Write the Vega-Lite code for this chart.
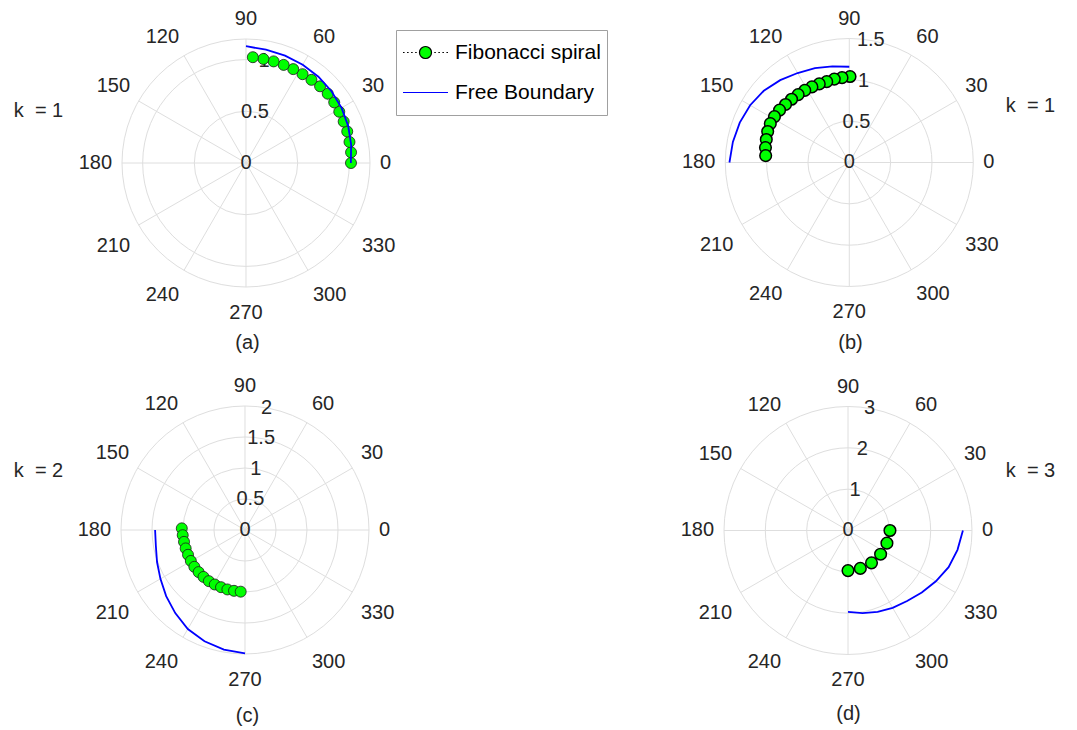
{
  "$schema": "https://vega.github.io/schema/vega-lite/v6.json",
  "padding": 0,
  "bounds": "flush",
  "spacing": 0,
  "columns": 2,
  "background": "white",
  "config": {
    "view": {"stroke": null},
    "axis": {"domain": false, "ticks": false, "labels": false, "grid": false, "titleFont": "Liberation Sans", "titleFontSize": 20, "titleFontWeight": "normal", "titleColor": "#262626", "titlePadding": 0}
  },
  "resolve": {
    "scale": {"x": "independent", "y": "independent", "size": "independent", "shape": "independent", "fill": "independent", "stroke": "independent"},
    "axis": {"x": "independent", "y": "independent"}
  },
  "datasets": {
    "angles": [{"angle": 0}, {"angle": 30}, {"angle": 60}, {"angle": 90}, {"angle": 120}, {"angle": 150}, {"angle": 180}, {"angle": 210}, {"angle": 240}, {"angle": 270}, {"angle": 300}, {"angle": 330}],
    "pa": [
      {"series": "Fibonacci spiral", "theta": 0, "r": 1.016},
      {"series": "Fibonacci spiral", "theta": 5.8, "r": 1.022},
      {"series": "Fibonacci spiral", "theta": 11.5, "r": 1.022},
      {"series": "Fibonacci spiral", "theta": 17.3, "r": 1.026},
      {"series": "Fibonacci spiral", "theta": 23, "r": 1.027},
      {"series": "Fibonacci spiral", "theta": 28.8, "r": 1.03},
      {"series": "Fibonacci spiral", "theta": 34.5, "r": 1.036},
      {"series": "Fibonacci spiral", "theta": 40.3, "r": 1.037},
      {"series": "Fibonacci spiral", "theta": 46, "r": 1.032},
      {"series": "Fibonacci spiral", "theta": 51.8, "r": 1.024},
      {"series": "Fibonacci spiral", "theta": 57.5, "r": 1.019},
      {"series": "Fibonacci spiral", "theta": 63.3, "r": 1.017},
      {"series": "Fibonacci spiral", "theta": 69, "r": 1.017},
      {"series": "Fibonacci spiral", "theta": 74.8, "r": 1.019},
      {"series": "Fibonacci spiral", "theta": 80.5, "r": 1.021},
      {"series": "Fibonacci spiral", "theta": 86.3, "r": 1.026},
      {"series": "Free Boundary", "theta": 0, "r": 1.015},
      {"series": "Free Boundary", "theta": 10, "r": 1.033},
      {"series": "Free Boundary", "theta": 20, "r": 1.052},
      {"series": "Free Boundary", "theta": 30, "r": 1.068},
      {"series": "Free Boundary", "theta": 40, "r": 1.08},
      {"series": "Free Boundary", "theta": 50, "r": 1.09},
      {"series": "Free Boundary", "theta": 60, "r": 1.098},
      {"series": "Free Boundary", "theta": 70, "r": 1.105},
      {"series": "Free Boundary", "theta": 80, "r": 1.113},
      {"series": "Free Boundary", "theta": 90, "r": 1.13}
    ],
    "pb": [
      {"series": "Fibonacci spiral", "theta": 89.5, "r": 1.04},
      {"series": "Fibonacci spiral", "theta": 94.9, "r": 1.03},
      {"series": "Fibonacci spiral", "theta": 100.2, "r": 1.025},
      {"series": "Fibonacci spiral", "theta": 105.6, "r": 1.015},
      {"series": "Fibonacci spiral", "theta": 110.9, "r": 1.018},
      {"series": "Fibonacci spiral", "theta": 116.3, "r": 1.02},
      {"series": "Fibonacci spiral", "theta": 121.7, "r": 1.025},
      {"series": "Fibonacci spiral", "theta": 127, "r": 1.028},
      {"series": "Fibonacci spiral", "theta": 132.4, "r": 1.036},
      {"series": "Fibonacci spiral", "theta": 137.7, "r": 1.043},
      {"series": "Fibonacci spiral", "theta": 143.1, "r": 1.055},
      {"series": "Fibonacci spiral", "theta": 148.5, "r": 1.062},
      {"series": "Fibonacci spiral", "theta": 153.8, "r": 1.065},
      {"series": "Fibonacci spiral", "theta": 159.2, "r": 1.056},
      {"series": "Fibonacci spiral", "theta": 164.5, "r": 1.042},
      {"series": "Fibonacci spiral", "theta": 169.9, "r": 1.03},
      {"series": "Fibonacci spiral", "theta": 175.3, "r": 1.015},
      {"series": "Free Boundary", "theta": 90, "r": 1.158},
      {"series": "Free Boundary", "theta": 100, "r": 1.18},
      {"series": "Free Boundary", "theta": 110, "r": 1.215},
      {"series": "Free Boundary", "theta": 120, "r": 1.25},
      {"series": "Free Boundary", "theta": 130, "r": 1.3},
      {"series": "Free Boundary", "theta": 140, "r": 1.35},
      {"series": "Free Boundary", "theta": 150, "r": 1.385},
      {"series": "Free Boundary", "theta": 160, "r": 1.41},
      {"series": "Free Boundary", "theta": 170, "r": 1.43},
      {"series": "Free Boundary", "theta": 180, "r": 1.45}
    ],
    "pc": [
      {"series": "Fibonacci spiral", "theta": 178.5, "r": 1.02},
      {"series": "Fibonacci spiral", "theta": 184.75, "r": 1.008},
      {"series": "Fibonacci spiral", "theta": 191, "r": 1.002},
      {"series": "Fibonacci spiral", "theta": 197.25, "r": 1.002},
      {"series": "Fibonacci spiral", "theta": 203.5, "r": 1.002},
      {"series": "Fibonacci spiral", "theta": 209.75, "r": 1.006},
      {"series": "Fibonacci spiral", "theta": 216, "r": 1.01},
      {"series": "Fibonacci spiral", "theta": 222.25, "r": 1.01},
      {"series": "Fibonacci spiral", "theta": 228.5, "r": 1.01},
      {"series": "Fibonacci spiral", "theta": 234.75, "r": 1.01},
      {"series": "Fibonacci spiral", "theta": 241, "r": 1.005},
      {"series": "Fibonacci spiral", "theta": 247.25, "r": 1.0},
      {"series": "Fibonacci spiral", "theta": 253.5, "r": 1.0},
      {"series": "Fibonacci spiral", "theta": 259.75, "r": 0.997},
      {"series": "Fibonacci spiral", "theta": 266, "r": 0.997},
      {"series": "Free Boundary", "theta": 180, "r": 1.45},
      {"series": "Free Boundary", "theta": 190, "r": 1.46},
      {"series": "Free Boundary", "theta": 200, "r": 1.51},
      {"series": "Free Boundary", "theta": 210, "r": 1.575},
      {"series": "Free Boundary", "theta": 220, "r": 1.66},
      {"series": "Free Boundary", "theta": 230, "r": 1.75},
      {"series": "Free Boundary", "theta": 240, "r": 1.845},
      {"series": "Free Boundary", "theta": 250, "r": 1.91},
      {"series": "Free Boundary", "theta": 260, "r": 1.96},
      {"series": "Free Boundary", "theta": 270, "r": 1.99}
    ],
    "pd": [
      {"series": "Fibonacci spiral", "theta": 0, "r": 1.015},
      {"series": "Fibonacci spiral", "theta": -18, "r": 0.99},
      {"series": "Fibonacci spiral", "theta": -36, "r": 0.975},
      {"series": "Fibonacci spiral", "theta": -54, "r": 0.968},
      {"series": "Fibonacci spiral", "theta": -72, "r": 0.965},
      {"series": "Fibonacci spiral", "theta": -90, "r": 0.97},
      {"series": "Free Boundary", "theta": 0, "r": 2.78},
      {"series": "Free Boundary", "theta": -10, "r": 2.69},
      {"series": "Free Boundary", "theta": -20, "r": 2.59},
      {"series": "Free Boundary", "theta": -30, "r": 2.455},
      {"series": "Free Boundary", "theta": -40, "r": 2.33},
      {"series": "Free Boundary", "theta": -50, "r": 2.225},
      {"series": "Free Boundary", "theta": -60, "r": 2.16},
      {"series": "Free Boundary", "theta": -70, "r": 2.095},
      {"series": "Free Boundary", "theta": -80, "r": 2.03},
      {"series": "Free Boundary", "theta": -90, "r": 1.97}
    ]
  },
  "concat": [
    {
      "width": 538, "height": 365,
      "encoding": {
        "x": {"field": "x", "type": "quantitative", "scale": {"domain": [-2.3806, 2.8258], "nice": false, "zero": false}, "axis": {"title": "(a)", "orient": "bottom", "titleX": 247, "titleY": -23, "titleAlign": "center", "titleBaseline": "middle"}},
        "y": {"field": "y", "type": "quantitative", "scale": {"domain": [-1.9548, 1.5774], "nice": false, "zero": false}, "axis": {"title": "k\u00a0 = 1", "orient": "left", "titleAngle": 0, "titleX": 38, "titleY": 110, "titleAlign": "center", "titleBaseline": "middle"}}
      },
      "layer": [
        {
          "data": {"name": "angles"},
          "transform": [{"calculate": "0", "as": "x"}, {"calculate": "0", "as": "y"}, {"calculate": "1.2*cos(datum.angle*PI/180)", "as": "x2"}, {"calculate": "1.2*sin(datum.angle*PI/180)", "as": "y2"}],
          "mark": {"type": "rule", "color": "#dedede", "strokeWidth": 1},
          "encoding": {"x2": {"field": "x2"}, "y2": {"field": "y2"}}
        },
        {
          "data": {"values": [{"r": 0.5}, {"r": 1}, {"r": 1.2}]},
          "transform": [{"calculate": "0", "as": "x"}, {"calculate": "0", "as": "y"}],
          "mark": {"type": "point", "shape": "circle", "filled": false, "color": "#dedede", "strokeWidth": 1, "opacity": 1},
          "encoding": {"size": {"field": "r", "type": "quantitative", "scale": {"type": "pow", "exponent": 2, "domain": [0, 1.2], "range": [0, 61504]}, "legend": null}}
        },
        {
          "data": {"values": [{"r": 0, "t": "0"}, {"r": 0.5, "t": "0.5"}, {"r": 1, "t": "1"}]},
          "transform": [{"calculate": "datum.r*cos(80*PI/180)", "as": "x"}, {"calculate": "datum.r*sin(80*PI/180)", "as": "y"}],
          "mark": {"type": "text", "font": "Liberation Sans", "fontSize": 20, "color": "#262626", "align": "center", "baseline": "middle"},
          "encoding": {"text": {"field": "t", "type": "nominal"}}
        },
        {
          "data": {"name": "angles"},
          "transform": [{"calculate": "cos(datum.angle*PI/180)", "as": "c"}, {"calculate": "sin(datum.angle*PI/180)", "as": "s"}, {"calculate": "1.2*1.08*datum.c", "as": "x"}, {"calculate": "1.2*1.08*datum.s", "as": "y"}],
          "mark": {"type": "text", "font": "Liberation Sans", "fontSize": 20, "color": "#262626",
            "align": {"expr": "abs(datum.c) < 0.1 ? 'center' : (datum.c > 0 ? 'left' : 'right')"},
            "baseline": {"expr": "abs(datum.s) < 0.1 ? 'middle' : (datum.s > 0 ? 'bottom' : 'top')"},
            "dy": {"expr": "datum.s < -0.1 ? 6 : 0"}},
          "encoding": {"text": {"field": "angle", "type": "nominal"}}
        },
        {
          "data": {"name": "pa"},
          "transform": [{"filter": "datum.series == 'Fibonacci spiral'"}, {"calculate": "datum.r*cos(datum.theta*PI/180)", "as": "x"}, {"calculate": "datum.r*sin(datum.theta*PI/180)", "as": "y"}],
          "mark": {"type": "line", "color": "#000000", "strokeWidth": 1, "strokeDash": [1.5, 2]},
          "encoding": {"order": {"field": "theta", "type": "quantitative"}}
        },
        {
          "data": {"name": "pa"},
          "transform": [{"filter": "datum.series == 'Fibonacci spiral'"}, {"calculate": "datum.r*cos(datum.theta*PI/180)", "as": "x"}, {"calculate": "datum.r*sin(datum.theta*PI/180)", "as": "y"}],
          "mark": {"type": "point", "shape": "circle", "filled": true, "size": 121, "fill": "#00ff00", "stroke": "#1a1a1a", "strokeWidth": 0.8, "opacity": 1},
          "encoding": {}
        },
        {
          "data": {"name": "pa"},
          "transform": [{"filter": "datum.series == 'Free Boundary'"}, {"calculate": "datum.r*cos(datum.theta*PI/180)", "as": "x"}, {"calculate": "datum.r*sin(datum.theta*PI/180)", "as": "y"}],
          "mark": {"type": "line", "strokeWidth": 1.8, "color": "#0000ff"},
          "encoding": {"order": {"field": "theta", "type": "quantitative"}}
        },
        {
          "data": {"name": "pa"},
          "transform": [{"filter": "false"}, {"calculate": "0", "as": "x"}, {"calculate": "0", "as": "y"}],
          "mark": {"type": "point", "filled": true, "opacity": 1},
          "encoding": {
            "shape": {"field": "series", "type": "nominal",
              "scale": {"domain": ["Fibonacci spiral", "Free Boundary"], "range": ["M-1,0h0.07M-0.82,0h0.07M-0.64,0h0.07M-0.46,0h0.07M0.39,0h0.07M0.57,0h0.07M0.75,0h0.07M0.93,0h0.07M0.267,0A0.267,0.267,0,1,1,-0.267,0A0.267,0.267,0,1,1,0.267,0Z", "stroke"]},
              "legend": {"title": null, "orient": "none", "legendX": 396, "legendY": 30, "strokeColor": "#a0a0a0", "fillColor": "#ffffff", "padding": 6, "labelFont": "Liberation Sans", "labelFontSize": 21, "labelColor": "#000000", "labelOffset": 6, "symbolSize": 2025, "symbolStrokeWidth": 1.2, "symbolOpacity": 1, "clipHeight": 33, "rowPadding": 7, "labelLimit": 400}},
            "fill": {"field": "series", "type": "nominal",
              "scale": {"domain": ["Fibonacci spiral", "Free Boundary"], "range": ["#00ff00", "transparent"]},
              "legend": {"title": null, "orient": "none", "legendX": 396, "legendY": 30, "strokeColor": "#a0a0a0", "fillColor": "#ffffff", "padding": 6, "labelFont": "Liberation Sans", "labelFontSize": 21, "labelColor": "#000000", "labelOffset": 6, "symbolSize": 2025, "symbolStrokeWidth": 1.2, "symbolOpacity": 1, "clipHeight": 33, "rowPadding": 7, "labelLimit": 400}},
            "stroke": {"field": "series", "type": "nominal",
              "scale": {"domain": ["Fibonacci spiral", "Free Boundary"], "range": ["#000000", "#0000ff"]},
              "legend": {"title": null, "orient": "none", "legendX": 396, "legendY": 30, "strokeColor": "#a0a0a0", "fillColor": "#ffffff", "padding": 6, "labelFont": "Liberation Sans", "labelFontSize": 21, "labelColor": "#000000", "labelOffset": 6, "symbolSize": 2025, "symbolStrokeWidth": 1.2, "symbolOpacity": 1, "clipHeight": 33, "rowPadding": 7, "labelLimit": 400}}
          }
        }
      ]
    },
    {
      "width": 538, "height": 365,
      "encoding": {
        "x": {"field": "x", "type": "quantitative", "scale": {"domain": [-3.7657, 2.7424], "nice": false, "zero": false}, "axis": {"title": "(b)", "orient": "bottom", "titleX": 312, "titleY": -23, "titleAlign": "center", "titleBaseline": "middle"}},
        "y": {"field": "y", "type": "quantitative", "scale": {"domain": [-2.4496, 1.9657], "nice": false, "zero": false}, "axis": {"title": "k\u00a0 = 1", "orient": "right", "titleAngle": 0, "titleX": -46, "titleY": 105, "titleAlign": "center", "titleBaseline": "middle"}}
      },
      "layer": [
        {
          "data": {"name": "angles"},
          "transform": [{"calculate": "0", "as": "x"}, {"calculate": "0", "as": "y"}, {"calculate": "1.5*cos(datum.angle*PI/180)", "as": "x2"}, {"calculate": "1.5*sin(datum.angle*PI/180)", "as": "y2"}],
          "mark": {"type": "rule", "color": "#dedede", "strokeWidth": 1},
          "encoding": {"x2": {"field": "x2"}, "y2": {"field": "y2"}}
        },
        {
          "data": {"values": [{"r": 0.5}, {"r": 1}, {"r": 1.5}]},
          "transform": [{"calculate": "0", "as": "x"}, {"calculate": "0", "as": "y"}],
          "mark": {"type": "point", "shape": "circle", "filled": false, "color": "#dedede", "strokeWidth": 1, "opacity": 1},
          "encoding": {"size": {"field": "r", "type": "quantitative", "scale": {"type": "pow", "exponent": 2, "domain": [0, 1.5], "range": [0, 61504]}, "legend": null}}
        },
        {
          "data": {"values": [{"r": 0, "t": "0"}, {"r": 0.5, "t": "0.5"}, {"r": 1, "t": "1"}, {"r": 1.5, "t": "1.5"}]},
          "transform": [{"calculate": "datum.r*cos(80*PI/180)", "as": "x"}, {"calculate": "datum.r*sin(80*PI/180)", "as": "y"}],
          "mark": {"type": "text", "font": "Liberation Sans", "fontSize": 20, "color": "#262626", "align": "center", "baseline": "middle"},
          "encoding": {"text": {"field": "t", "type": "nominal"}}
        },
        {
          "data": {"name": "angles"},
          "transform": [{"calculate": "cos(datum.angle*PI/180)", "as": "c"}, {"calculate": "sin(datum.angle*PI/180)", "as": "s"}, {"calculate": "1.5*1.08*datum.c", "as": "x"}, {"calculate": "1.5*1.08*datum.s", "as": "y"}],
          "mark": {"type": "text", "font": "Liberation Sans", "fontSize": 20, "color": "#262626",
            "align": {"expr": "abs(datum.c) < 0.1 ? 'center' : (datum.c > 0 ? 'left' : 'right')"},
            "baseline": {"expr": "abs(datum.s) < 0.1 ? 'middle' : (datum.s > 0 ? 'bottom' : 'top')"},
            "dy": {"expr": "datum.s < -0.1 ? 6 : 0"}},
          "encoding": {"text": {"field": "angle", "type": "nominal"}}
        },
        {
          "data": {"name": "pb"},
          "transform": [{"filter": "datum.series == 'Fibonacci spiral'"}, {"calculate": "datum.r*cos(datum.theta*PI/180)", "as": "x"}, {"calculate": "datum.r*sin(datum.theta*PI/180)", "as": "y"}],
          "mark": {"type": "line", "color": "#000000", "strokeWidth": 1, "strokeDash": [1.5, 2]},
          "encoding": {"order": {"field": "theta", "type": "quantitative"}}
        },
        {
          "data": {"name": "pb"},
          "transform": [{"filter": "datum.series == 'Fibonacci spiral'"}, {"calculate": "datum.r*cos(datum.theta*PI/180)", "as": "x"}, {"calculate": "datum.r*sin(datum.theta*PI/180)", "as": "y"}],
          "mark": {"type": "point", "shape": "circle", "filled": true, "size": 135, "fill": "#00ff00", "stroke": "#000000", "strokeWidth": 1.5, "opacity": 1},
          "encoding": {}
        },
        {
          "data": {"name": "pb"},
          "transform": [{"filter": "datum.series == 'Free Boundary'"}, {"calculate": "datum.r*cos(datum.theta*PI/180)", "as": "x"}, {"calculate": "datum.r*sin(datum.theta*PI/180)", "as": "y"}],
          "mark": {"type": "line", "strokeWidth": 1.8, "color": "#0000ff"},
          "encoding": {"order": {"field": "theta", "type": "quantitative"}}
        }
      ]
    },
    {
      "width": 538, "height": 365,
      "encoding": {
        "x": {"field": "x", "type": "quantitative", "scale": {"domain": [-3.9516, 4.7258], "nice": false, "zero": false}, "axis": {"title": "(c)", "orient": "bottom", "titleX": 247, "titleY": -15, "titleAlign": "center", "titleBaseline": "middle"}},
        "y": {"field": "y", "type": "quantitative", "scale": {"domain": [-3.2258, 2.6613], "nice": false, "zero": false}, "axis": {"title": "k\u00a0 = 2", "orient": "left", "titleAngle": 0, "titleX": 38, "titleY": 105, "titleAlign": "center", "titleBaseline": "middle"}}
      },
      "layer": [
        {
          "data": {"name": "angles"},
          "transform": [{"calculate": "0", "as": "x"}, {"calculate": "0", "as": "y"}, {"calculate": "2*cos(datum.angle*PI/180)", "as": "x2"}, {"calculate": "2*sin(datum.angle*PI/180)", "as": "y2"}],
          "mark": {"type": "rule", "color": "#dedede", "strokeWidth": 1},
          "encoding": {"x2": {"field": "x2"}, "y2": {"field": "y2"}}
        },
        {
          "data": {"values": [{"r": 0.5}, {"r": 1}, {"r": 1.5}, {"r": 2}]},
          "transform": [{"calculate": "0", "as": "x"}, {"calculate": "0", "as": "y"}],
          "mark": {"type": "point", "shape": "circle", "filled": false, "color": "#dedede", "strokeWidth": 1, "opacity": 1},
          "encoding": {"size": {"field": "r", "type": "quantitative", "scale": {"type": "pow", "exponent": 2, "domain": [0, 2], "range": [0, 61504]}, "legend": null}}
        },
        {
          "data": {"values": [{"r": 0, "t": "0"}, {"r": 0.5, "t": "0.5"}, {"r": 1, "t": "1"}, {"r": 1.5, "t": "1.5"}, {"r": 2, "t": "2"}]},
          "transform": [{"calculate": "datum.r*cos(80*PI/180)", "as": "x"}, {"calculate": "datum.r*sin(80*PI/180)", "as": "y"}],
          "mark": {"type": "text", "font": "Liberation Sans", "fontSize": 20, "color": "#262626", "align": "center", "baseline": "middle"},
          "encoding": {"text": {"field": "t", "type": "nominal"}}
        },
        {
          "data": {"name": "angles"},
          "transform": [{"calculate": "cos(datum.angle*PI/180)", "as": "c"}, {"calculate": "sin(datum.angle*PI/180)", "as": "s"}, {"calculate": "2*1.08*datum.c", "as": "x"}, {"calculate": "2*1.08*datum.s", "as": "y"}],
          "mark": {"type": "text", "font": "Liberation Sans", "fontSize": 20, "color": "#262626",
            "align": {"expr": "abs(datum.c) < 0.1 ? 'center' : (datum.c > 0 ? 'left' : 'right')"},
            "baseline": {"expr": "abs(datum.s) < 0.1 ? 'middle' : (datum.s > 0 ? 'bottom' : 'top')"},
            "dy": {"expr": "datum.s < -0.1 ? 6 : 0"}},
          "encoding": {"text": {"field": "angle", "type": "nominal"}}
        },
        {
          "data": {"name": "pc"},
          "transform": [{"filter": "datum.series == 'Fibonacci spiral'"}, {"calculate": "datum.r*cos(datum.theta*PI/180)", "as": "x"}, {"calculate": "datum.r*sin(datum.theta*PI/180)", "as": "y"}],
          "mark": {"type": "line", "color": "#000000", "strokeWidth": 1, "strokeDash": [1.5, 2]},
          "encoding": {"order": {"field": "theta", "type": "quantitative"}}
        },
        {
          "data": {"name": "pc"},
          "transform": [{"filter": "datum.series == 'Fibonacci spiral'"}, {"calculate": "datum.r*cos(datum.theta*PI/180)", "as": "x"}, {"calculate": "datum.r*sin(datum.theta*PI/180)", "as": "y"}],
          "mark": {"type": "point", "shape": "circle", "filled": true, "size": 121, "fill": "#00ff00", "stroke": "#1a1a1a", "strokeWidth": 0.8, "opacity": 1},
          "encoding": {}
        },
        {
          "data": {"name": "pc"},
          "transform": [{"filter": "datum.series == 'Free Boundary'"}, {"calculate": "datum.r*cos(datum.theta*PI/180)", "as": "x"}, {"calculate": "datum.r*sin(datum.theta*PI/180)", "as": "y"}],
          "mark": {"type": "line", "strokeWidth": 1.8, "color": "#0000ff"},
          "encoding": {"order": {"field": "theta", "type": "quantitative"}}
        }
      ]
    },
    {
      "width": 538, "height": 365,
      "encoding": {
        "x": {"field": "x", "type": "quantitative", "scale": {"domain": [-7.5, 5.5161], "nice": false, "zero": false}, "axis": {"title": "(d)", "orient": "bottom", "titleX": 310, "titleY": -17, "titleAlign": "center", "titleBaseline": "middle"}},
        "y": {"field": "y", "type": "quantitative", "scale": {"domain": [-4.8266, 4.004], "nice": false, "zero": false}, "axis": {"title": "k\u00a0 = 3", "orient": "right", "titleAngle": 0, "titleX": -46, "titleY": 105, "titleAlign": "center", "titleBaseline": "middle"}}
      },
      "layer": [
        {
          "data": {"name": "angles"},
          "transform": [{"calculate": "0", "as": "x"}, {"calculate": "0", "as": "y"}, {"calculate": "3*cos(datum.angle*PI/180)", "as": "x2"}, {"calculate": "3*sin(datum.angle*PI/180)", "as": "y2"}],
          "mark": {"type": "rule", "color": "#dedede", "strokeWidth": 1},
          "encoding": {"x2": {"field": "x2"}, "y2": {"field": "y2"}}
        },
        {
          "data": {"values": [{"r": 1}, {"r": 2}, {"r": 3}]},
          "transform": [{"calculate": "0", "as": "x"}, {"calculate": "0", "as": "y"}],
          "mark": {"type": "point", "shape": "circle", "filled": false, "color": "#dedede", "strokeWidth": 1, "opacity": 1},
          "encoding": {"size": {"field": "r", "type": "quantitative", "scale": {"type": "pow", "exponent": 2, "domain": [0, 3], "range": [0, 61504]}, "legend": null}}
        },
        {
          "data": {"values": [{"r": 0, "t": "0"}, {"r": 1, "t": "1"}, {"r": 2, "t": "2"}, {"r": 3, "t": "3"}]},
          "transform": [{"calculate": "datum.r*cos(80*PI/180)", "as": "x"}, {"calculate": "datum.r*sin(80*PI/180)", "as": "y"}],
          "mark": {"type": "text", "font": "Liberation Sans", "fontSize": 20, "color": "#262626", "align": "center", "baseline": "middle"},
          "encoding": {"text": {"field": "t", "type": "nominal"}}
        },
        {
          "data": {"name": "angles"},
          "transform": [{"calculate": "cos(datum.angle*PI/180)", "as": "c"}, {"calculate": "sin(datum.angle*PI/180)", "as": "s"}, {"calculate": "3*1.08*datum.c", "as": "x"}, {"calculate": "3*1.08*datum.s", "as": "y"}],
          "mark": {"type": "text", "font": "Liberation Sans", "fontSize": 20, "color": "#262626",
            "align": {"expr": "abs(datum.c) < 0.1 ? 'center' : (datum.c > 0 ? 'left' : 'right')"},
            "baseline": {"expr": "abs(datum.s) < 0.1 ? 'middle' : (datum.s > 0 ? 'bottom' : 'top')"},
            "dy": {"expr": "datum.s < -0.1 ? 6 : 0"}},
          "encoding": {"text": {"field": "angle", "type": "nominal"}}
        },
        {
          "data": {"name": "pd"},
          "transform": [{"filter": "datum.series == 'Fibonacci spiral'"}, {"calculate": "datum.r*cos(datum.theta*PI/180)", "as": "x"}, {"calculate": "datum.r*sin(datum.theta*PI/180)", "as": "y"}],
          "mark": {"type": "line", "color": "#000000", "strokeWidth": 1, "strokeDash": [1.5, 2]},
          "encoding": {"order": {"field": "theta", "type": "quantitative"}}
        },
        {
          "data": {"name": "pd"},
          "transform": [{"filter": "datum.series == 'Fibonacci spiral'"}, {"calculate": "datum.r*cos(datum.theta*PI/180)", "as": "x"}, {"calculate": "datum.r*sin(datum.theta*PI/180)", "as": "y"}],
          "mark": {"type": "point", "shape": "circle", "filled": true, "size": 135, "fill": "#00ff00", "stroke": "#000000", "strokeWidth": 1.5, "opacity": 1},
          "encoding": {}
        },
        {
          "data": {"name": "pd"},
          "transform": [{"filter": "datum.series == 'Free Boundary'"}, {"calculate": "datum.r*cos(datum.theta*PI/180)", "as": "x"}, {"calculate": "datum.r*sin(datum.theta*PI/180)", "as": "y"}],
          "mark": {"type": "line", "strokeWidth": 1.8, "color": "#0000ff"},
          "encoding": {"order": {"field": "theta", "type": "quantitative"}}
        }
      ]
    }
  ]
}
